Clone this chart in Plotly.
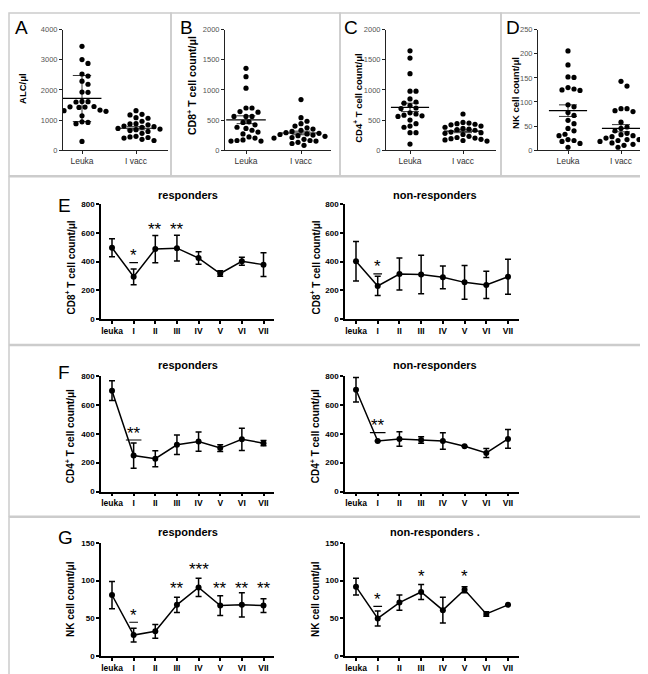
import plotly.graph_objects as go
import numpy as np

W, H = 648, 674
FONT = "Liberation Sans, Arial, sans-serif"

# ---------------- data: top row (individual patients) ----------------
groups = ["Leuka", "I vacc"]

alc_leuka = [3450, 3010, 2880, 2530, 2460, 2290, 2190, 1930, 1920, 1620, 1610, 1600,
             1450, 1440, 1430, 1420, 1330, 1310, 1290, 1140, 940, 920, 880, 290]
alc_ivacc = [1310, 1190, 1170, 1080, 1060, 960, 880, 870, 840, 800, 780, 760,
             720, 700, 680, 650, 620, 560, 460, 440, 420, 400, 360, 320]
alc_mean = [1720, 727]
alc_hi = [2480, 780]
alc_lo = [950, 675]

cd8_leuka = [1360, 1220, 1030, 700, 700, 640, 630, 560, 560, 560, 470, 460,
             420, 380, 360, 330, 300, 270, 220, 200, 170, 150, 150, 160]
cd8_ivacc = [840, 540, 480, 440, 400, 370, 350, 330, 310, 290, 280, 270,
             260, 250, 240, 230, 210, 200, 180, 160, 150, 130, 110, 80]
cd8_mean = [504, 285]
cd8_hi = [570, 315]
cd8_lo = [440, 255]

cd4_leuka = [1650, 1530, 1270, 980, 980, 850, 800, 780, 740, 700, 690, 620,
             600, 580, 570, 560, 500, 440, 400, 380, 290, 290, 100]
cd4_ivacc = [600, 460, 450, 440, 430, 420, 400, 380, 360, 350, 340, 330,
             300, 290, 280, 260, 230, 210, 200, 190, 180, 170, 160, 150]
cd4_mean = [710, 316]
cd4_hi = [780, 345]
cd4_lo = [640, 290]

nk_leuka = [206, 177, 152, 151, 130, 127, 125, 124, 94, 90, 78, 72,
            62, 55, 45, 40, 33, 30, 22, 20, 18, 14, 6]
nk_ivacc = [143, 133, 86, 86, 82, 80, 58, 48, 45, 40, 35, 32,
            30, 28, 25, 22, 22, 20, 18, 15, 12, 10, 6]
nk_mean = [82, 45]
nk_hi = [94, 53]
nk_lo = [70, 38]

# ---------------- data: time courses (mean, SEM) ----------------
timepoints = ["leuka", "I", "II", "III", "IV", "V", "VI", "VII"]

cd8_resp_mean = [497, 294, 488, 494, 425, 317, 402, 379]
cd8_resp_sem = [63, 55, 95, 90, 44, 20, 28, 83]
cd8_non_mean = [402, 230, 313, 310, 290, 255, 237, 294]
cd8_non_sem = [138, 67, 112, 134, 80, 118, 95, 122]

cd4_resp_mean = [699, 249, 227, 324, 346, 301, 362, 335]
cd4_resp_sem = [68, 88, 56, 67, 67, 23, 77, 18]
cd4_non_mean = [705, 350, 364, 357, 350, 313, 267, 364]
cd4_non_sem = [85, 0, 50, 23, 58, 0, 31, 65]

nk_resp_mean = [81, 28, 33, 68, 91, 67, 68, 67]
nk_resp_sem = [18, 9, 9, 10, 12, 13, 16, 9]
nk_non_mean = [92, 50, 71, 85, 61, 88, 56, 68]
nk_non_sem = [11, 10, 10, 10, 17, 4, 3, 0]

# significance marks: text, y of mark, y of underline (None = no underline)
cd8_resp_sig = ["", "*", "**", "**", "", "", "", ""]
cd8_resp_sig_y = [None, 439, 616, 616, None, None, None, None]
cd8_resp_bar_y = [None, 393, None, None, None, None, None, None]
cd8_non_sig = ["", "*", "", "", "", "", "", ""]
cd8_non_sig_y = [None, 356, None, None, None, None, None, None]
cd8_non_bar_y = [None, 315, None, None, None, None, None, None]

cd4_resp_sig = ["", "**", "", "", "", "", "", ""]
cd4_resp_sig_y = [None, 398, None, None, None, None, None, None]
cd4_resp_bar_y = [None, 357, None, None, None, None, None, None]
cd4_non_sig = ["", "**", "", "", "", "", "", ""]
cd4_non_sig_y = [None, 449, None, None, None, None, None, None]
cd4_non_bar_y = [None, 408, None, None, None, None, None, None]

nk_resp_sig = ["", "*", "", "**", "***", "**", "**", "**"]
nk_resp_sig_y = [None, 52, None, 88, 114, 88, 88, 88]
nk_resp_bar_y = [None, 45, None, None, None, None, None, None]
nk_non_sig = ["", "*", "", "*", "", "*", "", ""]
nk_non_sig_y = [None, 74, None, 104, None, 104, None, None]
nk_non_bar_y = [None, 66, None, None, None, None, None, None]


# ---------------- helpers ----------------
def fx(px):
    return px / W


def fy(py):
    return 1 - py / H


def x_axis_geom(left, right, c0, cN, n):
    ppu = (cN - c0) / (n - 1)
    rng = [-(c0 - left) / ppu, (n - 1) + (right - cN) / ppu]
    return [fx(left), fx(right)], rng, ppu


def swarm(values, px_per_unit_y, px_per_unit_x, d=6.0):
    placed = []
    order = np.argsort(values)[::-1]
    res = [0.0] * len(values)
    for idx in order:
        ypx = values[idx] * px_per_unit_y
        cands = [0.0]
        for k in range(1, 12):
            cands += [k * d / 2, -k * d / 2]
        for c in cands:
            ok = all((c - ox) ** 2 + (ypx - oy) ** 2 >= d * d for ox, oy in placed)
            if ok:
                placed.append((c, ypx))
                res[idx] = c / px_per_unit_x
                break
    return res


fig = go.Figure()
layout = {}
annotations = []
shapes = []

# ---------------- top row ----------------
top_panels = [
    ("A", "ALC/μl", alc_leuka, alc_ivacc, alc_mean, alc_hi, alc_lo, 4000, 1000,
     (55, 160, 74, 128), (15, 78), 9.5, 5),
    ("B", "CD8<sup>+</sup> T cell count/μl", cd8_leuka, cd8_ivacc, cd8_mean, cd8_hi, cd8_lo, 2000, 500,
     (217, 323, 238, 293), (183, 74), 10.5, 170),
    ("C", "CD4<sup>+</sup> T cell count/μl", cd4_leuka, cd4_ivacc, cd4_mean, cd4_hi, cd4_lo, 2000, 500,
     (378, 488, 402, 455), (350, 88), 9.5, 334),
    ("D", "NK cell count/μl", nk_leuka, nk_ivacc, nk_mean, nk_hi, nk_lo, 250, 50,
     (530, 643, 560, 613), (508, 82), 9.5, 496),
]

ytop, ybot = 18, 140
ax_i = 0
for (letter, title, lv, iv, mean, hi, lo, ymax, dtick, geom, tpos, tsize, lx) in top_panels:
    ax_i += 1
    sfx = "" if ax_i == 1 else str(ax_i)
    xd, xr, ppu = x_axis_geom(geom[0], geom[1], geom[2], geom[3], 2)
    ppy = (ybot - ytop) / ymax
    layout["xaxis" + sfx] = dict(domain=xd, range=xr, anchor="y" + sfx,
                                 tickvals=[0, 1], ticktext=groups, showline=True,
                                 linecolor="#222", linewidth=1, ticks="outside",
                                 ticklen=3, tickcolor="#222", showgrid=False, zeroline=False,
                                 tickfont=dict(family=FONT, size=8.5, color="#333"))
    layout["yaxis" + sfx] = dict(domain=[fy(ybot), fy(ytop)], range=[0, ymax], anchor="x" + sfx,
                                 dtick=dtick, showline=True, linecolor="#222", linewidth=1,
                                 ticks="outside", ticklen=3, tickcolor="#222", showgrid=False,
                                 zeroline=False,
                                 tickfont=dict(family=FONT, size=7.5, color="#555"))
    for gi, vals in enumerate([lv, iv]):
        offs = swarm(vals, ppy, ppu)
        fig.add_trace(go.Scatter(x=[gi + o for o in offs], y=vals, mode="markers",
                                 marker=dict(size=5.2, color="black"),
                                 xaxis="x" + sfx, yaxis="y" + sfx, showlegend=False,
                                 hoverinfo="skip"))
        fig.add_trace(go.Scatter(x=[gi - 0.36, gi + 0.36], y=[mean[gi], mean[gi]], mode="lines",
                                 line=dict(color="black", width=1.2),
                                 xaxis="x" + sfx, yaxis="y" + sfx, showlegend=False,
                                 hoverinfo="skip"))
        fig.add_trace(go.Scatter(x=[gi - 0.17, gi + 0.17, None, gi, gi, None, gi - 0.17, gi + 0.17],
                                 y=[hi[gi], hi[gi], None, lo[gi], hi[gi], None, lo[gi], lo[gi]],
                                 mode="lines", line=dict(color="black", width=0.8),
                                 xaxis="x" + sfx, yaxis="y" + sfx, showlegend=False,
                                 hoverinfo="skip"))
    annotations.append(dict(text=letter, x=fx(lx), y=fy(16), xref="paper", yref="paper",
                            xanchor="left", yanchor="middle", showarrow=False,
                            font=dict(family=FONT, size=19, color="black")))
    annotations.append(dict(text="<b>" + title + "</b>", x=fx(tpos[0]), y=fy(tpos[1]),
                            xref="paper", yref="paper", textangle=-90, showarrow=False,
                            xanchor="center", yanchor="middle",
                            font=dict(family=FONT, size=tsize, color="black")))

# ---------------- time course panels ----------------
left_geom = (93, 266, 104, 255.5)
right_geom = (337, 511, 348, 500)

rows = [
    ("E", 196, 185, 195, 311, 800, 200, "CD8<sup>+</sup> T cell count/μl", 259,
     (cd8_resp_mean, cd8_resp_sem, cd8_resp_sig, cd8_resp_sig_y, cd8_resp_bar_y),
     (cd8_non_mean, cd8_non_sem, cd8_non_sig, cd8_non_sig_y, cd8_non_bar_y), "non-responders"),
    ("F", 365, 358, 369, 486, 800, 200, "CD4<sup>+</sup> T cell count/μl", 430,
     (cd4_resp_mean, cd4_resp_sem, cd4_resp_sig, cd4_resp_sig_y, cd4_resp_bar_y),
     (cd4_non_mean, cd4_non_sem, cd4_non_sig, cd4_non_sig_y, cd4_non_bar_y), "non-responders"),
    ("G", 533, 527, 538, 653, 150, 50, "NK cell count/μl", 595,
     (nk_resp_mean, nk_resp_sem, nk_resp_sig, nk_resp_sig_y, nk_resp_bar_y),
     (nk_non_mean, nk_non_sem, nk_non_sig, nk_non_sig_y, nk_non_bar_y), "non-responders ."),
]

xs = list(range(len(timepoints)))
for (letter, ly, ty, atop, abot, ymax, dtick, ytitle, yty, resp, non, ntitle) in rows:
    for side, (geom, dat, title, ytx) in enumerate([(left_geom, resp, "responders", 62),
                                                    (right_geom, non, ntitle, 307)]):
        ax_i += 1
        sfx = str(ax_i)
        xd, xr, ppu = x_axis_geom(geom[0], geom[1], geom[2], geom[3], len(timepoints))
        layout["xaxis" + sfx] = dict(domain=xd, range=xr, anchor="y" + sfx,
                                     tickvals=xs, ticktext=timepoints, showline=True,
                                     linecolor="black", linewidth=1.5, ticks="outside",
                                     ticklen=3, tickwidth=1.5, tickcolor="black",
                                     showgrid=False, zeroline=False,
                                     tickfont=dict(family=FONT, size=8.5, color="black",
                                                   weight="bold"))
        layout["yaxis" + sfx] = dict(domain=[fy(abot), fy(atop)], range=[0, ymax],
                                     anchor="x" + sfx, dtick=dtick, showline=True,
                                     linecolor="black", linewidth=1.5, ticks="outside",
                                     ticklen=3, tickwidth=1.5, tickcolor="black",
                                     showgrid=False, zeroline=False,
                                     tickfont=dict(family=FONT, size=8, color="black",
                                                   weight="bold"))
        mean, sem, sig, sig_y, bar_y = dat
        fig.add_trace(go.Scatter(x=xs, y=mean, mode="lines+markers",
                                 marker=dict(size=6, color="black"),
                                 line=dict(color="black", width=1.5),
                                 error_y=dict(type="data", array=sem, visible=True,
                                              color="black", thickness=1.5, width=3),
                                 xaxis="x" + sfx, yaxis="y" + sfx, showlegend=False,
                                 hoverinfo="skip"))
        for i, s in enumerate(sig):
            if s:
                annotations.append(dict(text=s, x=i, y=sig_y[i], xref="x" + sfx, yref="y" + sfx,
                                        showarrow=False, xanchor="center", yanchor="middle",
                                        yshift=1,
                                        font=dict(family=FONT, size=17, color="black")))
            if bar_y[i] is not None:
                half = 0.2 if len(s) == 1 else 0.36
                shapes.append(dict(type="line", xref="x" + sfx, yref="y" + sfx,
                                   x0=i - half, x1=i + half, y0=bar_y[i], y1=bar_y[i],
                                   line=dict(color="black", width=1.2)))
        annotations.append(dict(text="<b>" + title + "</b>",
                                x=(xd[0] + xd[1]) / 2 + (0.005 if side == 1 else 0),
                                y=fy(ty), xref="paper", yref="paper", showarrow=False,
                                xanchor="center", yanchor="middle",
                                font=dict(family=FONT, size=11, color="black")))
        annotations.append(dict(text="<b>" + ytitle + "</b>", x=fx(ytx), y=fy(yty),
                                xref="paper", yref="paper", textangle=-90, showarrow=False,
                                xanchor="center", yanchor="middle",
                                font=dict(family=FONT, size=10, color="black")))
    annotations.append(dict(text=letter, x=fx(48), y=fy(ly), xref="paper", yref="paper",
                            xanchor="left", yanchor="middle", showarrow=False,
                            font=dict(family=FONT, size=19, color="black")))

# ---------------- panel frames ----------------
boxes = [(1, 1, 163, 166), (163, 1, 332, 166), (332, 1, 493, 166), (493, 1, 647, 166),
         (1, 167, 647, 337), (1, 338, 647, 511), (1, 512, 647, 673)]
for (x0, y0, x1, y1) in boxes:
    shapes.append(dict(type="rect", xref="paper", yref="paper",
                       x0=fx(x0), x1=fx(x1), y0=fy(y1), y1=fy(y0),
                       line=dict(color="#cccccc", width=1.5), layer="below"))

fig.update_layout(width=W, height=H, margin=dict(l=0, r=0, t=0, b=0),
                  paper_bgcolor="white", plot_bgcolor="white",
                  annotations=annotations, shapes=shapes, showlegend=False,
                  font=dict(family=FONT), **layout)
fig.write_html("out.html")
